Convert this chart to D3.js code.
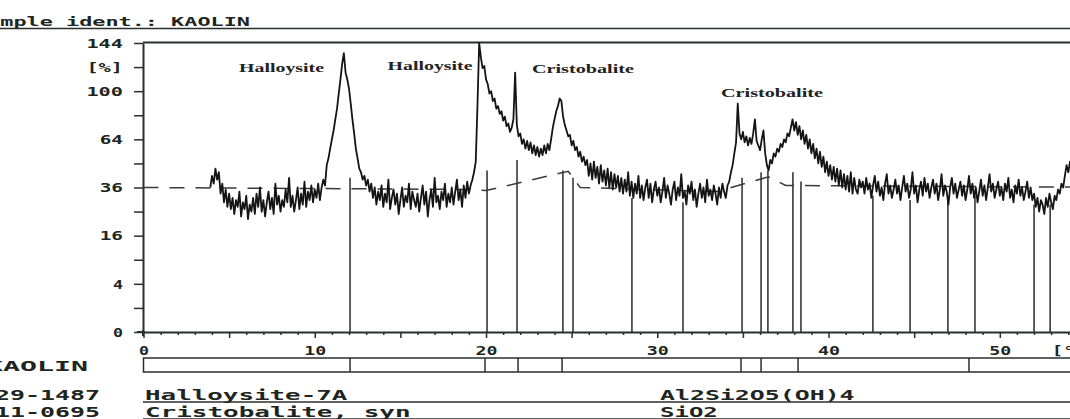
<!DOCTYPE html>
<html>
<head>
<meta charset="utf-8">
<script src="https://cdn.jsdelivr.net/npm/d3@7/dist/d3.min.js"></script>
<style>
  body { margin: 0; background: #fff; }
  svg { display: block; }
  .mono { font-family: "DejaVu Sans Mono", "Liberation Mono", monospace; font-weight: bold; fill: #1e2520; }
  .note { font-family: "Liberation Serif", "DejaVu Serif", serif; font-weight: bold; font-size: 12px; fill: #222; }
</style>
</head>
<body>
<svg width="1070" height="419"></svg>
<script>
// scan: 2theta start / step, intensity
const scanStart = 3.9, scanStep = 0.1;
const counts = [
  // 3.9
  36, 42, 38, 46, 40, 44, 33, 38, 29, 35, 27, 33, 26, 31, 24, 30, 27, 34, 23, 29,
  // 5.9
  26, 32, 22, 28, 25, 31, 24, 33, 27, 36, 25, 30, 23, 29, 34, 26, 31, 24, 38, 28,
  // 7.9
  32, 25, 30, 27, 35, 29, 41, 27, 32, 25, 30, 36, 26, 33, 28, 39, 27, 34, 30, 37,
  // 9.9
  29, 35, 31, 38, 30, 36, 40, 37, 48, 52, 58, 64, 70, 78, 86, 98, 110, 124, 134, 116,
  // 11.9
  110, 102, 90, 78, 68, 58, 52, 46, 44, 40, 42, 37, 40, 34, 38, 31, 36, 28, 34, 30,
  // 13.9
  37, 27, 33, 29, 40, 26, 31, 35, 28, 33, 24, 30, 36, 27, 32, 29, 38, 26, 34, 30,
  // 15.9
  27, 33, 25, 31, 37, 28, 34, 23, 30, 35, 27, 41, 29, 32, 26, 34, 30, 38, 27, 33,
  // 17.9
  29, 36, 28, 34, 40, 30, 35, 27, 37, 31, 39, 33, 37, 40, 44, 50, 88, 144, 130, 120,
  // 19.9
  122, 110, 106, 98, 100, 92, 94, 86, 88, 82, 84, 77, 80, 73, 75, 69, 72, 78, 116, 74,
  // 21.9
  66, 68, 61, 64, 58, 63, 57, 62, 55, 60, 54, 59, 53, 58, 54, 60, 55, 61, 57, 64,
  // 23.9
  72, 78, 84, 88, 94, 92, 80, 74, 70, 66, 67, 60, 63, 57, 59, 53, 56, 50, 53, 48,
  // 25.9
  51, 42, 49, 40, 50, 41, 47, 38, 48, 39, 45, 37, 46, 36, 44, 35, 43, 36, 42, 34,
  // 27.9
  41, 33, 40, 34, 44, 32, 39, 31, 38, 33, 42, 31, 37, 30, 36, 40, 31, 38, 29, 35,
  // 29.9
  39, 32, 36, 29, 34, 41, 31, 37, 33, 28, 35, 39, 30, 36, 32, 43, 31, 34, 28, 37,
  // 31.9
  33, 39, 30, 35, 27, 33, 38, 31, 36, 29, 40, 32, 35, 30, 37, 33, 28, 36, 31, 38,
  // 33.9
  34, 31, 37, 39, 44, 48, 55, 62, 90, 68, 64, 69, 62, 66, 60, 65, 61, 68, 78, 63,
  // 35.9
  60, 57, 64, 70, 55, 48, 45, 51, 49, 55, 53, 58, 56, 61, 59, 64, 62, 68, 66, 72,
  // 37.9
  78, 70, 76, 67, 73, 64, 70, 61, 67, 58, 64, 55, 61, 52, 58, 49, 56, 47, 53, 44,
  // 39.9
  50, 42, 48, 40, 47, 39, 46, 37, 45, 36, 43, 35, 42, 34, 44, 33, 41, 35, 33, 40,
  // 41.9
  36, 39, 33, 41, 35, 38, 31, 37, 42, 34, 39, 32, 36, 30, 38, 43, 33, 37, 31, 35,
  // 43.9
  40, 33, 37, 30, 36, 42, 34, 38, 31, 35, 44, 33, 37, 29, 35, 39, 32, 41, 34, 38,
  // 45.9
  31, 36, 40, 33, 38, 30, 35, 43, 32, 37, 34, 28, 36, 41, 33, 38, 31, 35, 39, 32,
  // 47.9
  37, 30, 35, 42, 33, 38, 31, 36, 29, 34, 40, 32, 37, 30, 36, 43, 34, 38, 31, 35,
  // 49.9
  39, 32, 36, 30, 38, 34, 41, 31, 35, 29, 37, 33, 40, 32, 36, 30, 34, 39, 31, 36,
  // 51.9
  30, 33, 27, 31, 25, 30, 28, 24, 31, 27, 33, 29, 26, 32, 30, 35, 33, 38, 36, 42,
  // 53.9
  48, 44, 50, 46, 52, 48, 54, 50, 55, 51
];

// fitted background (dashed), [2theta, counts]
const background = [[0, 36], [19.3, 35], [20, 34.5], [24.8, 44.5], [25.5, 36], [33.5, 34],
                    [35.5, 39], [36.5, 41.5], [37.5, 37], [58, 36]];

// reference patterns, [2theta, stick height]
const halloysiteSticks = [[12.06, 41], [20.06, 45], [24.49, 45], [34.95, 41], [37.92, 44], [52.94, 28]];
const cristobaliteSticks = [[21.81, 51], [25.08, 41], [28.52, 31], [31.5, 29], [36.06, 44], [36.46, 45],
                            [38.39, 39], [42.59, 32], [44.76, 30], [46.97, 30], [48.55, 32], [52.0, 28]];

// peak marks of the sample band under the axis
const sampleMarks = [12.06, 19.94, 21.87, 24.44, 34.89, 36.06, 38.22, 48.2];

const yTickValues = [0, 1, 4, 9, 16, 25, 36, 49, 64, 81, 100, 121, 144];
const yTickLabels = { 0: "0", 4: "4", 16: "16", 36: "36", 64: "64", 100: "100", 121: "[%]", 144: "144" };
const xTickLabels = { 0: "0", 10: "10", 20: "20", 30: "30", 40: "40", 50: "50", 54: "[°]" };

const peakNotes = [
  { text: "Halloysite", deg: 8.06, value: 116.6 },
  { text: "Halloysite", deg: 16.73, value: 118.4 },
  { text: "Cristobalite", deg: 25.66, value: 115.7 },
  { text: "Cristobalite", deg: 36.7, value: 95.2 }
];

const refRows = [
  { card: "29-1487", name: "Halloysite-7A", formula: "Al2Si2O5(OH)4" },
  { card: "11-0695", name: "Cristobalite, syn", formula: "SiO2" }
];

const svg = d3.select("svg"),
      ink = "#141414",
      axisInk = "#2b2f2c";

const x = d3.scaleLinear().domain([0, 58]).range([143.5, 143.5 + 58 * 17.126]);
const y = d3.scaleSqrt().domain([0, 144]).range([332, 43]);

// header
svg.append("text").attr("class", "mono")
   .attr("x", -26).attr("y", 26).attr("font-size", 13)
   .attr("textLength", 276).attr("lengthAdjust", "spacingAndGlyphs")
   .text("Sample ident.: KAOLIN");
svg.append("line").attr("x1", 0).attr("x2", 1070).attr("y1", 28.5).attr("y2", 28.5)
   .attr("stroke", axisInk).attr("stroke-width", 1.5);

// top frame
svg.append("line").attr("x1", 143).attr("x2", 1070).attr("y1", 42.5).attr("y2", 42.5)
   .attr("stroke", axisInk).attr("stroke-width", 2);

// y axis
const gy = svg.append("g").attr("transform", "translate(143,0)")
  .call(d3.axisLeft(y).tickValues(yTickValues).tickSize(9).tickSizeOuter(0).tickPadding(11)
          .tickFormat(d => yTickLabels[d] || ""));
gy.select(".domain").attr("stroke", axisInk).attr("stroke-width", 2);
gy.selectAll(".tick line").attr("stroke", axisInk).attr("stroke-width", 1.5);
gy.selectAll(".tick text")
  .attr("class", "mono").attr("font-size", 13)
  .each(function() {
    const t = d3.select(this).text();
    if (t) d3.select(this).attr("textLength", t.length * 13.3 - 3.3).attr("lengthAdjust", "spacingAndGlyphs");
  });
svg.append("line").attr("x1", 143).attr("x2", 143).attr("y1", 330).attr("y2", 336)
   .attr("stroke", axisInk).attr("stroke-width", 2);

// x axis
const gx = svg.append("g").attr("transform", "translate(0,332)")
  .call(d3.axisBottom(x).tickValues(d3.range(0, 59)).tickSize(2).tickSizeOuter(0)
          .tickFormat(d => xTickLabels[d] || ""));
gx.select(".domain").attr("stroke", axisInk).attr("stroke-width", 2);
gx.selectAll(".tick line").attr("stroke", axisInk).attr("stroke-width", 1.5)
  .attr("y2", d => d % 5 === 0 ? 6 : 3);
gx.selectAll(".tick text")
  .attr("class", "mono").attr("font-size", 13).attr("y", 19).attr("dy", "0.32em")
  .each(function() {
    const t = d3.select(this).text();
    if (t) d3.select(this).attr("textLength", t.length * 12 - 2).attr("lengthAdjust", "spacingAndGlyphs");
  });
svg.append("line").attr("x1", 137).attr("x2", 145).attr("y1", 332).attr("y2", 332)
   .attr("stroke", axisInk).attr("stroke-width", 2);

// reference sticks
svg.append("g").selectAll("line")
  .data(halloysiteSticks.concat(cristobaliteSticks))
  .join("line")
    .attr("x1", d => x(d[0])).attr("x2", d => x(d[0]))
    .attr("y1", y(0)).attr("y2", d => y(d[1]))
    .attr("stroke", "#2a2a2a").attr("stroke-width", 1.5);

// background
svg.append("path")
  .datum(background)
  .attr("fill", "none").attr("stroke", "#3a3a3a").attr("stroke-width", 1.5)
  .attr("stroke-dasharray", "15,11")
  .attr("d", d3.line().x(d => x(d[0])).y(d => y(d[1])));

// measured trace
svg.append("path")
  .datum(counts)
  .attr("fill", "none").attr("stroke", ink).attr("stroke-width", 1.8)
  .attr("stroke-linejoin", "round")
  .attr("d", d3.line().x((d, i) => x(scanStart + i * scanStep)).y(d => y(d)));

// peak notes
svg.append("g").selectAll("text")
  .data(peakNotes)
  .join("text")
    .attr("class", "note")
    .attr("x", d => x(d.deg)).attr("y", d => y(d.value))
    .attr("text-anchor", "middle")
    .attr("textLength", d => d.text.length * 8.5)
    .attr("lengthAdjust", "spacingAndGlyphs")
    .text(d => d.text);

// sample band
svg.append("rect").attr("x", 143.5).attr("y", 358).attr("width", 1000).attr("height", 14)
   .attr("fill", "none").attr("stroke", axisInk).attr("stroke-width", 1.5);
svg.append("g").selectAll("line")
  .data(sampleMarks)
  .join("line")
    .attr("x1", d => x(d)).attr("x2", d => x(d))
    .attr("y1", 358).attr("y2", 372)
    .attr("stroke", axisInk).attr("stroke-width", 1.5);
svg.append("text").attr("class", "mono").attr("font-size", 14)
   .attr("x", -14).attr("y", 371)
   .attr("textLength", 102).attr("lengthAdjust", "spacingAndGlyphs")
   .text("KAOLIN");

// reference cards
const rowY = [400, 417];
refRows.forEach((r, i) => {
  const by = rowY[i];
  svg.append("text").attr("class", "mono").attr("font-size", 14)
     .attr("x", -5).attr("y", by)
     .attr("textLength", 105).attr("lengthAdjust", "spacingAndGlyphs")
     .text(r.card);
  svg.append("text").attr("class", "mono").attr("font-size", 14)
     .attr("x", 145).attr("y", by)
     .attr("textLength", r.name.length * 15.8 - 3).attr("lengthAdjust", "spacingAndGlyphs")
     .text(r.name);
  svg.append("text").attr("class", "mono").attr("font-size", 14)
     .attr("x", 660).attr("y", by)
     .attr("textLength", r.formula.length * 15.2 - 3).attr("lengthAdjust", "spacingAndGlyphs")
     .text(r.formula);
  svg.append("line").attr("x1", 143).attr("x2", 1070).attr("y1", by + 2).attr("y2", by + 2)
     .attr("stroke", axisInk).attr("stroke-width", 1.5);
});
</script>
</body>
</html>
